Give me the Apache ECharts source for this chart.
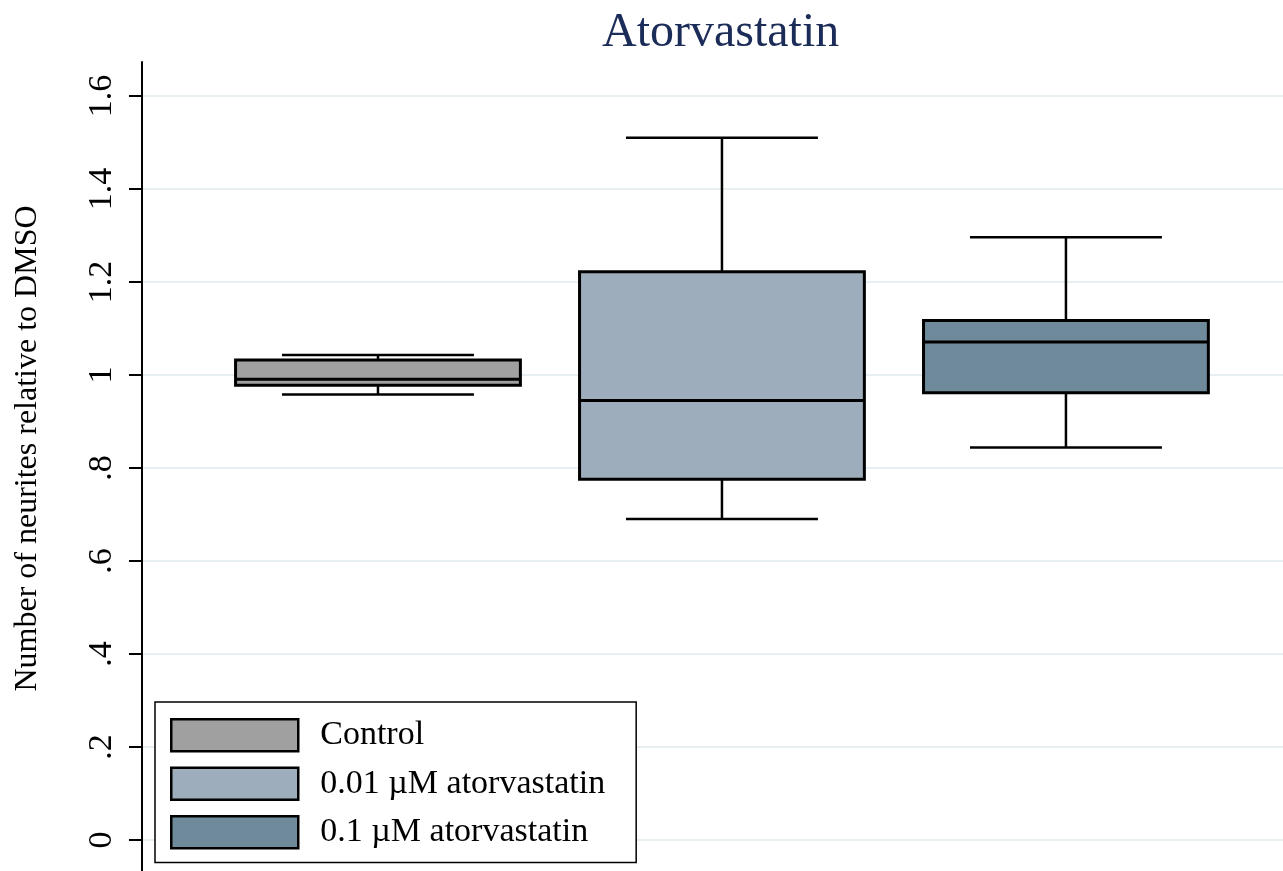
<!DOCTYPE html>
<html>
<head>
<meta charset="utf-8">
<script src="https://cdn.jsdelivr.net/npm/echarts@6/dist/echarts.min.js"></script>
<style>
html,body{margin:0;padding:0;background:#fff;}
#chart{width:1283px;height:871px;}
</style>
</head>
<body>
<div id="chart"></div>
<script>
// ---- data ----
const categories = ['Control', '0.01 µM atorvastatin', '0.1 µM atorvastatin'];
const lowerWhisker = [0.958, 0.690, 0.844];
const q1 = [0.978, 0.776, 0.962];
const median = [0.991, 0.945, 1.071];
const q3 = [1.032, 1.222, 1.117];
const upperWhisker = [1.043, 1.510, 1.296];
const yTicks = [0, 0.2, 0.4, 0.6, 0.8, 1.0, 1.2, 1.4, 1.6];
const colors = ['#a0a0a0', '#9dadbb', '#6e8a9b'];

const FONT = '"Liberation Serif", "Times New Roman", serif';
const BOX_W = 0.828;   // box width in x-axis units
const CAP_W = 0.558;   // whisker cap width in x-axis units

function renderBox(params, api) {
  const x = api.value(0);
  const lo = api.coord([x, api.value(1)]);
  const b1 = api.coord([x, api.value(2)]);
  const md = api.coord([x, api.value(3)]);
  const b3 = api.coord([x, api.value(4)]);
  const hi = api.coord([x, api.value(5)]);
  const bw = api.size([BOX_W, 0])[0];
  const cw = api.size([CAP_W, 0])[0];
  const cx = lo[0];
  const lineStyle = {stroke: '#000', lineWidth: 2.5, fill: null};
  return {
    type: 'group',
    children: [
      {type: 'line', shape: {x1: cx, y1: hi[1], x2: cx, y2: b3[1]}, style: lineStyle},
      {type: 'line', shape: {x1: cx, y1: lo[1], x2: cx, y2: b1[1]}, style: lineStyle},
      {type: 'line', shape: {x1: cx - cw / 2, y1: hi[1], x2: cx + cw / 2, y2: hi[1]}, style: lineStyle},
      {type: 'line', shape: {x1: cx - cw / 2, y1: lo[1], x2: cx + cw / 2, y2: lo[1]}, style: lineStyle},
      {type: 'rect', shape: {x: cx - bw / 2, y: b3[1], width: bw, height: b1[1] - b3[1]},
        style: {fill: api.visual('color'), stroke: '#000', lineWidth: 3}},
      {type: 'line', shape: {x1: cx - bw / 2, y1: md[1], x2: cx + bw / 2, y2: md[1]}, style: {stroke: '#000', lineWidth: 3}}
    ]
  };
}

const series = categories.map((name, i) => ({
  name: name,
  type: 'custom',
  renderItem: renderBox,
  itemStyle: {color: colors[i], borderColor: '#000'},
  encode: {x: 0, y: [1, 2, 3, 4, 5]},
  data: [[i + 1, lowerWhisker[i], q1[i], median[i], q3[i], upperWhisker[i]]],
  z: 2
}));

const chart = echarts.init(document.getElementById('chart'), null, {renderer: 'canvas'});
chart.setOption({
  backgroundColor: '#fff',
  animation: false,
  title: {
    text: 'Atorvastatin',
    left: 597,
    top: 4,
    textStyle: {fontFamily: FONT, fontSize: 48, fontWeight: 'normal', color: '#1c2c58'}
  },
  grid: {left: 142, right: 0, top: 62, bottom: 0, containLabel: false},
  xAxis: {
    type: 'value',
    min: 0.314,
    max: 3.631,
    show: false
  },
  yAxis: {
    type: 'value',
    min: -0.0667,
    max: 1.673,
    name: 'Number of neurites relative to DMSO',
    nameLocation: 'middle',
    nameGap: 98,
    nameRotate: 90,
    nameTextStyle: {fontFamily: FONT, fontSize: 32, color: '#000', padding: [0, 0, 0, 36]},
    axisLine: {show: true, lineStyle: {color: '#000', width: 2}},
    axisTick: {show: true, length: 13, customValues: yTicks, lineStyle: {color: '#000', width: 2}},
    axisLabel: {
      show: true,
      customValues: yTicks,
      rotate: 90,
      margin: 23,
      fontFamily: FONT,
      fontSize: 34,
      color: '#000',
      formatter: v => {
        const r = Math.round(v * 10) / 10;
        if (r === 0) return '0';
        if (r === 1) return '1';
        let s = r.toFixed(1);
        if (s.startsWith('0')) s = s.slice(1);
        return s;
      }
    },
    splitLine: {show: true, lineStyle: {color: '#e8eff2', width: 2}}
  },
  legend: {
    data: categories,
    orient: 'vertical',
    left: 155,
    top: 702,
    padding: [16, 31, 13, 15],
    itemGap: 14,
    itemWidth: 127,
    itemHeight: 32,
    icon: 'rect',
    backgroundColor: '#fff',
    borderColor: '#000',
    borderWidth: 1.5,
    borderRadius: 0,
    itemStyle: {borderColor: '#000', borderWidth: 2.5},
    textStyle: {fontFamily: FONT, fontSize: 34, lineHeight: 32, color: '#000', padding: [0, 0, 0, 17]},
    z: 10
  },
  series: series
});
</script>
</body>
</html>
